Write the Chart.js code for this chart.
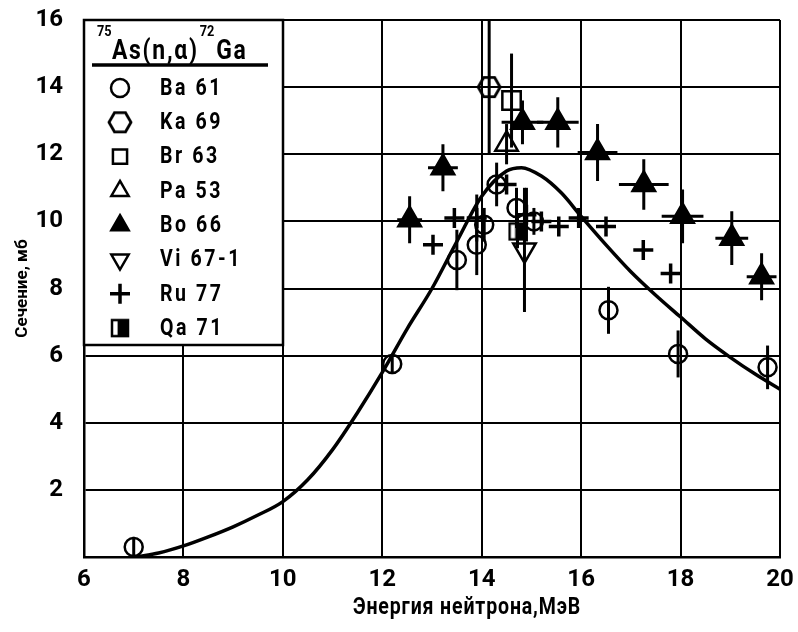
<!DOCTYPE html>
<html>
<head>
<meta charset="utf-8">
<script src="https://cdn.jsdelivr.net/npm/chart.js@4.4.1/dist/chart.umd.min.js"></script>
<style>
  body { margin: 0; background: #fff; }
  #wrap { width: 798px; height: 632px; }
</style>
</head>
<body>
<div id="wrap"><canvas id="chart" width="798" height="632"></canvas></div>
<script>
const FONT = 'Roboto, "DejaVu Sans", sans-serif';
const SX = 0.85; // horizontal squeeze for hand-drawn looking labels

// axis ticks
const xTicks = [6, 8, 10, 12, 14, 16, 18, 20];
const yTicks = [0, 2, 4, 6, 8, 10, 12, 14, 16];

// evaluated curve
const curveX = [7.05, 7.5, 8, 8.5, 9, 9.5, 10, 10.5, 11, 11.5, 12, 12.5, 13, 13.5, 14, 14.5, 14.8, 15.2, 15.6, 16, 16.5, 17, 17.5, 18, 18.5, 19, 19.5, 20];
const curveY = [0, 0.12, 0.33, 0.6, 0.9, 1.25, 1.65, 2.3, 3.2, 4.3, 5.5, 6.8, 8.0, 9.4, 10.75, 11.5, 11.6, 11.35, 10.85, 10.15, 9.3, 8.5, 7.8, 7.15, 6.5, 5.95, 5.45, 5.0];

// Ba 61
const ba61X = [7.0, 12.2, 13.5, 13.9, 14.05, 14.3, 14.7, 15.05, 16.55, 17.95, 19.75];
const ba61Y = [0.3, 5.75, 8.85, 9.3, 9.9, 11.1, 10.4, 10.0, 7.35, 6.05, 5.65];
const ba61Err = [0.3, 0.3, 0.9, 0.9, 0.5, 0.65, 0.6, 0.4, 0.7, 0.7, 0.65];

// Ka 69
const ka69X = [14.15];
const ka69Y = [14.0];
const ka69Err = [2.0];

// Br 63
const br63X = [14.6];
const br63Y = [13.6];
const br63Err = [1.4];

// Pa 53
const pa53X = [14.5];
const pa53Y = [12.3];
const pa53Err = [0.6];

// Bo 66
const bo66X = [12.55, 13.22, 14.82, 15.53, 16.33, 17.26, 18.04, 19.03, 19.63];
const bo66Y = [10.05, 11.6, 12.95, 12.95, 12.05, 11.1, 10.15, 9.5, 8.35];
const bo66YErr = [0.7, 0.7, 0.65, 0.75, 0.85, 0.75, 0.8, 0.8, 0.7];
const bo66XErr = [0.25, 0.3, 0.42, 0.42, 0.4, 0.5, 0.42, 0.33, 0.3];

// Vi 67-1
const vi67X = [14.86];
const vi67Y = [9.15];
const vi67Err = [1.85];

// Ru 77
const ru77X = [13.02, 13.45, 13.9, 14.5, 14.9, 15.2, 15.55, 15.95, 16.5, 17.25, 17.8];
const ru77Y = [9.3, 10.1, 10.1, 11.1, 10.2, 10.0, 9.85, 10.1, 9.85, 9.15, 8.45];
const ru77Err = [0, 0, 0.7, 0, 0.8, 0, 0, 0, 0, 0, 0];

// Qa 71
const qa71X = [14.72];
const qa71Y = [9.7];
const qa71Err = [0.5];

const pts = (xs, ys) => xs.map((v, i) => ({ x: v, y: ys[i] }));

function hexagon(r) {
  const c = document.createElement('canvas');
  const s = Math.ceil(r * 2 + 4);
  c.width = s; c.height = s;
  const g = c.getContext('2d');
  g.lineWidth = 2.8; g.strokeStyle = '#000';
  g.beginPath();
  for (let k = 0; k < 6; k++) {
    const a = k * Math.PI / 3;
    const px = s / 2 + r * Math.cos(a), py = s / 2 + r * Math.sin(a);
    k ? g.lineTo(px, py) : g.moveTo(px, py);
  }
  g.closePath();
  g.stroke();
  return c;
}

function halfSquare(side) {
  const c = document.createElement('canvas');
  const s = side + 4;
  c.width = s; c.height = s;
  const g = c.getContext('2d');
  g.fillStyle = '#000';
  g.fillRect(2 + side * 0.35, 2, side * 0.65, side);
  g.lineWidth = 2.5; g.strokeStyle = '#000';
  g.strokeRect(2, 2, side, side);
  return c;
}

const black = '#000';
const none = 'rgba(0,0,0,0)';

function marks(label, data, style, extra) {
  return Object.assign({
    label: label,
    data: data,
    showLine: false,
    pointStyle: style,
    pointRadius: 9,
    pointBorderWidth: 2.5,
    borderColor: black,
    backgroundColor: none,
    legendEntry: true
  }, extra);
}

const datasets = [
  {
    label: 'curve',
    data: pts(curveX, curveY),
    showLine: true,
    borderColor: black,
    borderWidth: 3.5,
    pointRadius: 0,
    cubicInterpolationMode: 'monotone'
  },
  marks('Ba 61', pts(ba61X, ba61Y), 'circle', { yErr: ba61Err }),
  marks('Ka 69', pts(ka69X, ka69Y), hexagon(11), { yErr: ka69Err }),
  marks('Br 63', pts(br63X, br63Y), 'rect', { pointRadius: 13, yErr: br63Err }),
  marks('Pa 53', pts(pa53X, pa53Y), 'triangle', { pointRadius: 13, yErr: pa53Err }),
  marks('Bo 66', pts(bo66X, bo66Y), 'triangle', { pointRadius: 13, backgroundColor: black, yErr: bo66YErr, xErr: bo66XErr }),
  marks('Vi 67-1', pts(vi67X, vi67Y), 'triangle', { pointRadius: 13, rotation: 180, yErr: vi67Err }),
  marks('Ru 77', pts(ru77X, ru77Y), 'cross', { pointRadius: 10, pointBorderWidth: 3.5, yErr: ru77Err }),
  marks('Qa 71', pts(qa71X, qa71Y), halfSquare(16), { yErr: qa71Err })
];

// draws text squeezed horizontally, returns drawn width
function squeezed(ctx, text, x, y) {
  ctx.save();
  ctx.translate(x, y);
  ctx.scale(SX, 1);
  ctx.fillText(text, 0, 0);
  const w = ctx.measureText(text).width * SX;
  ctx.restore();
  return w;
}

const errorBars = {
  id: 'errorBars',
  beforeDatasetsDraw(chart) {
    const { ctx, chartArea, scales: { x, y } } = chart;
    ctx.save();
    ctx.beginPath();
    ctx.rect(chartArea.left, chartArea.top, chartArea.width, chartArea.height);
    ctx.clip();
    ctx.strokeStyle = black;
    ctx.lineWidth = 3;
    chart.data.datasets.forEach(ds => {
      if (!ds.yErr && !ds.xErr) return;
      ds.data.forEach((p, i) => {
        const px = x.getPixelForValue(p.x), py = y.getPixelForValue(p.y);
        const ye = ds.yErr ? ds.yErr[i] : 0;
        const xe = ds.xErr ? ds.xErr[i] : 0;
        ctx.beginPath();
        if (ye) {
          ctx.moveTo(px, y.getPixelForValue(p.y + ye));
          ctx.lineTo(px, y.getPixelForValue(p.y - ye));
        }
        if (xe) {
          ctx.moveTo(x.getPixelForValue(p.x - xe), py);
          ctx.lineTo(x.getPixelForValue(p.x + xe), py);
        }
        ctx.stroke();
      });
    });
    ctx.restore();
  }
};

const legendBox = {
  id: 'legendBox',
  afterDraw(chart) {
    const { ctx, chartArea } = chart;
    const L = chartArea.left, T = chartArea.top;
    ctx.save();
    ctx.fillStyle = '#fff';
    ctx.fillRect(L, T, 199, 325);
    ctx.strokeStyle = black;
    ctx.lineWidth = 2.5;
    ctx.strokeRect(L, T, 199, 325);

    // title: 75As(n,α)72Ga
    ctx.fillStyle = black;
    ctx.textBaseline = 'alphabetic';
    ctx.textAlign = 'left';
    ctx.font = 'bold 15px ' + FONT;
    squeezed(ctx, '75', L + 13, T + 16);
    ctx.font = 'bold 27px ' + FONT;
    ctx.letterSpacing = '2px';
    let cx = L + 28 + squeezed(ctx, 'As(n,α)', L + 28, T + 39);
    ctx.letterSpacing = '0px';
    ctx.font = 'bold 15px ' + FONT;
    cx += 1 + squeezed(ctx, '72', cx + 1, T + 16);
    ctx.font = 'bold 27px ' + FONT;
    ctx.letterSpacing = '2px';
    squeezed(ctx, 'Ga', cx + 2, T + 39);
    ctx.letterSpacing = '0px';
    ctx.lineWidth = 3.5;
    ctx.beginPath();
    ctx.moveTo(L + 8, T + 45);
    ctx.lineTo(L + 184, T + 45);
    ctx.stroke();

    // entries
    const entries = chart.data.datasets.filter(d => d.legendEntry);
    ctx.font = 'bold 23px ' + FONT;
    ctx.textBaseline = 'middle';
    entries.forEach((ds, i) => {
      const cy = T + 68 + i * 34.3;
      ctx.fillStyle = ds.backgroundColor;
      ctx.strokeStyle = black;
      ctx.lineWidth = ds.pointBorderWidth;
      Chart.helpers.drawPoint(ctx, {
        pointStyle: ds.pointStyle,
        radius: Math.min(ds.pointRadius, 10),
        rotation: ds.rotation || 0,
        borderWidth: ds.pointBorderWidth
      }, L + 36, cy);
      ctx.fillStyle = black;
      ctx.letterSpacing = '3px';
      squeezed(ctx, ds.label, L + 76, cy + 1);
      ctx.letterSpacing = '0px';
    });

    // x axis title
    ctx.font = 'bold 23px ' + FONT;
    ctx.textAlign = 'center';
    ctx.textBaseline = 'middle';
    ctx.letterSpacing = '1px';
    squeezed(ctx, 'Энергия нейтрона,МэВ', 467, 608);
    ctx.restore();
  }
};

new Chart(document.getElementById('chart'), {
  type: 'scatter',
  data: { datasets: datasets },
  options: {
    responsive: false,
    animation: false,
    layout: { padding: { left: 0, right: 18, top: 20, bottom: 0 } },
    plugins: {
      legend: { display: false },
      tooltip: { enabled: false }
    },
    scales: {
      x: {
        type: 'linear',
        min: 6,
        max: 20,
        afterFit: s => { s.height = 75; s.paddingLeft = 0; s.paddingRight = 0; },
        afterBuildTicks: s => { s.ticks = xTicks.map(v => ({ value: v })); },
        grid: { color: black, lineWidth: 2, drawTicks: false },
        border: { color: black, width: 2.5 },
        ticks: { color: black, padding: 9, font: { family: FONT, size: 24, weight: 'bold' } }
      },
      y: {
        type: 'linear',
        min: 0,
        max: 16,
        afterFit: s => { s.width = 84; s.paddingTop = 0; s.paddingBottom = 0; },
        afterBuildTicks: s => { s.ticks = yTicks.map(v => ({ value: v })); },
        grid: { color: black, lineWidth: 2, drawTicks: false },
        border: { color: black, width: 2.5 },
        ticks: {
          color: black,
          padding: 21,
          font: { family: FONT, size: 24, weight: 'bold' },
          callback: v => (v === 0 ? '' : v)
        },
        title: {
          display: true,
          text: 'Сечение, мб',
          color: black,
          padding: { top: 13, bottom: 0 },
          font: { family: FONT, size: 17, weight: 'bold' }
        }
      }
    }
  },
  plugins: [errorBars, legendBox]
});
</script>
</body>
</html>
